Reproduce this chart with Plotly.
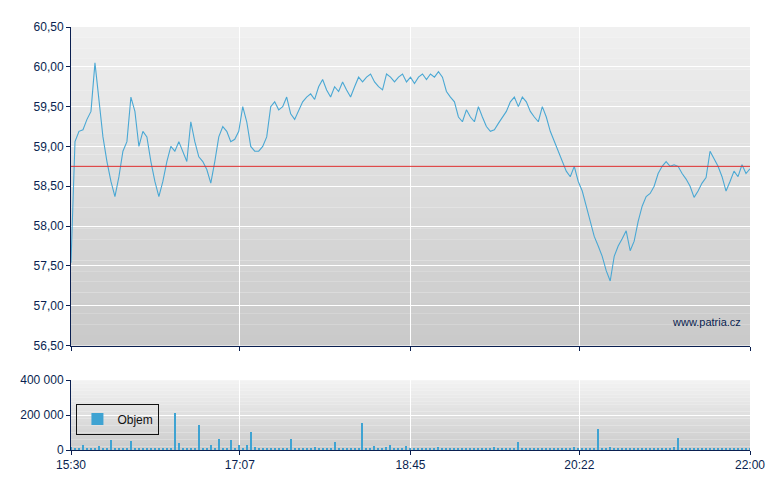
import plotly.graph_objects as go
from datetime import datetime, timedelta

price = [57.54,59.06,59.19,59.21,59.34,59.44,60.05,59.62,59.12,58.81,58.56,58.37,58.62,58.94,59.06,59.62,59.44,59.0,59.19,59.12,
58.81,58.56,58.37,58.56,58.81,59.0,58.94,59.06,58.94,58.81,59.31,59.06,58.87,58.81,58.71,58.54,58.81,59.12,59.25,59.19,
59.06,59.09,59.19,59.5,59.31,59.0,58.94,58.94,59.0,59.12,59.5,59.56,59.46,59.5,59.62,59.41,59.34,59.44,59.56,59.62,
59.66,59.59,59.75,59.84,59.71,59.62,59.75,59.69,59.81,59.71,59.62,59.75,59.87,59.81,59.87,59.91,59.81,59.75,59.71,59.91,
59.87,59.81,59.87,59.91,59.81,59.87,59.79,59.87,59.91,59.84,59.91,59.87,59.94,59.87,59.69,59.62,59.56,59.37,59.31,59.46,
59.37,59.31,59.5,59.37,59.25,59.19,59.21,59.29,59.37,59.44,59.56,59.62,59.5,59.62,59.56,59.44,59.37,59.31,59.5,59.37,
59.19,59.06,58.94,58.81,58.69,58.62,58.75,58.56,58.44,58.25,58.06,57.87,57.75,57.62,57.44,57.31,57.62,57.75,57.84,57.94,
57.69,57.81,58.06,58.25,58.37,58.41,58.5,58.66,58.75,58.81,58.75,58.77,58.75,58.66,58.59,58.5,58.36,58.44,58.54,58.61,
58.94,58.84,58.75,58.62,58.44,58.56,58.69,58.62,58.77,58.66,58.72]

volume = [15000,8000,12000,30000,10000,6000,5000,20000,8000,12000,55000,9000,7000,6000,10000,50000,8000,6000,5000,12000,
8000,5000,9000,6000,10000,7000,210000,40000,8000,12000,9000,6000,140000,10000,8000,30000,12000,60000,9000,10000,
55000,8000,30000,7000,25000,100000,15000,8000,10000,7000,12000,9000,6000,8000,10000,60000,8000,12000,9000,7000,
10000,15000,9000,8000,12000,7000,45000,10000,8000,6000,12000,9000,10000,155000,8000,12000,20000,9000,10000,15000,
30000,8000,7000,9000,20000,10000,8000,12000,7000,9000,10000,6000,15000,9000,8000,7000,12000,10000,8000,9000,
6000,12000,8000,10000,7000,9000,15000,10000,8000,12000,9000,7000,45000,10000,8000,9000,12000,6000,8000,10000,
7000,9000,8000,10000,12000,9000,15000,8000,10000,7000,12000,9000,120000,10000,8000,15000,9000,12000,7000,10000,
8000,9000,10000,12000,8000,9000,7000,10000,8000,12000,9000,15000,70000,10000,8000,9000,12000,7000,10000,8000,
9000,12000,8000,10000,9000,7000,12000,10000,8000,9000,10000]

ref_price = 58.75
tick_labels = ["15:30", "17:07", "18:45", "20:22", "22:00"]

start = datetime(2024, 1, 2, 15, 30)
n = len(price)
times = [start + timedelta(minutes=i * 390 / (n - 1)) for i in range(n)]
tickvals = [datetime(2024, 1, 2, int(t[:2]), int(t[3:])) for t in tick_labels]

fig = go.Figure()
fig.add_trace(go.Scatter(x=times, y=price, mode="lines", line=dict(color="#4aa8d4", width=1.1),
                         xaxis="x", yaxis="y", showlegend=False))
fig.add_trace(go.Scatter(x=[times[0], times[-1]], y=[ref_price, ref_price], mode="lines",
                         line=dict(color="#e03030", width=1), xaxis="x", yaxis="y", showlegend=False))
fig.add_trace(go.Bar(x=times, y=volume, marker=dict(color="#3fa3d2", line=dict(width=0)),
                     width=40000, xaxis="x2", yaxis="y2", name="Objem", showlegend=True))

shapes = []
nb = 30
for k in range(nb):
    c = int(240 + (202 - 240) * k / (nb - 1))
    shapes.append(dict(type="rect", xref="x domain", yref="y domain", x0=0, x1=1,
                       y0=1 - (k + 1) / nb, y1=1 - k / nb,
                       fillcolor=f"rgb({c},{c},{c})", line=dict(width=0), layer="below"))
for k in range(20):
    c = int(242 + (204 - 242) * k / 19)
    shapes.append(dict(type="rect", xref="x2 domain", yref="y2 domain", x0=0, x1=1,
                       y0=1 - (k + 1) / 20, y1=1 - k / 20,
                       fillcolor=f"rgb({c},{c},{c})", line=dict(width=0), layer="below"))

axis_col = "#0a1f50"
common = dict(ticks="outside", ticklen=4, tickcolor=axis_col, showgrid=True, gridcolor="white",
              gridwidth=1.3, showline=True, linecolor=axis_col, zeroline=False, tickfont=dict(size=12))
fig.update_layout(
    width=772, height=482, margin=dict(l=62, r=30, t=17, b=40),
    paper_bgcolor="white", plot_bgcolor="rgba(0,0,0,0)",
    separators=", ",
    font=dict(family="Liberation Sans, Arial", size=12, color=axis_col),
    shapes=shapes,
    xaxis=dict(domain=[0, 1], anchor="y", range=[times[0], times[-1]], tickvals=tickvals,
               showticklabels=False, **common),
    yaxis=dict(domain=[0.247, 1], range=[56.5, 60.5], dtick=0.5, tickformat=".2f", **common),
    xaxis2=dict(domain=[0, 1], anchor="y2", range=[times[0], times[-1]], tickvals=tickvals,
                ticktext=tick_labels, **common),
    yaxis2=dict(domain=[0, 0.165], range=[0, 400000], tickvals=[0, 200000, 400000], tickformat=",d", **common),
    legend=dict(x=0.008, y=0.073, xanchor="left", yanchor="middle", bgcolor="rgba(0,0,0,0)",
                bordercolor="#111", borderwidth=1, itemwidth=30, font=dict(size=12, color="#111"),
                tracegroupgap=0, itemsizing="constant"),
    annotations=[dict(text="www.patria.cz", xref="x domain", yref="y domain", x=0.99, y=0.05,
                      xanchor="right", yanchor="bottom", showarrow=False, font=dict(size=11, color="#0a1f50"))],
    bargap=0,
)
fig.write_html("out.html")
